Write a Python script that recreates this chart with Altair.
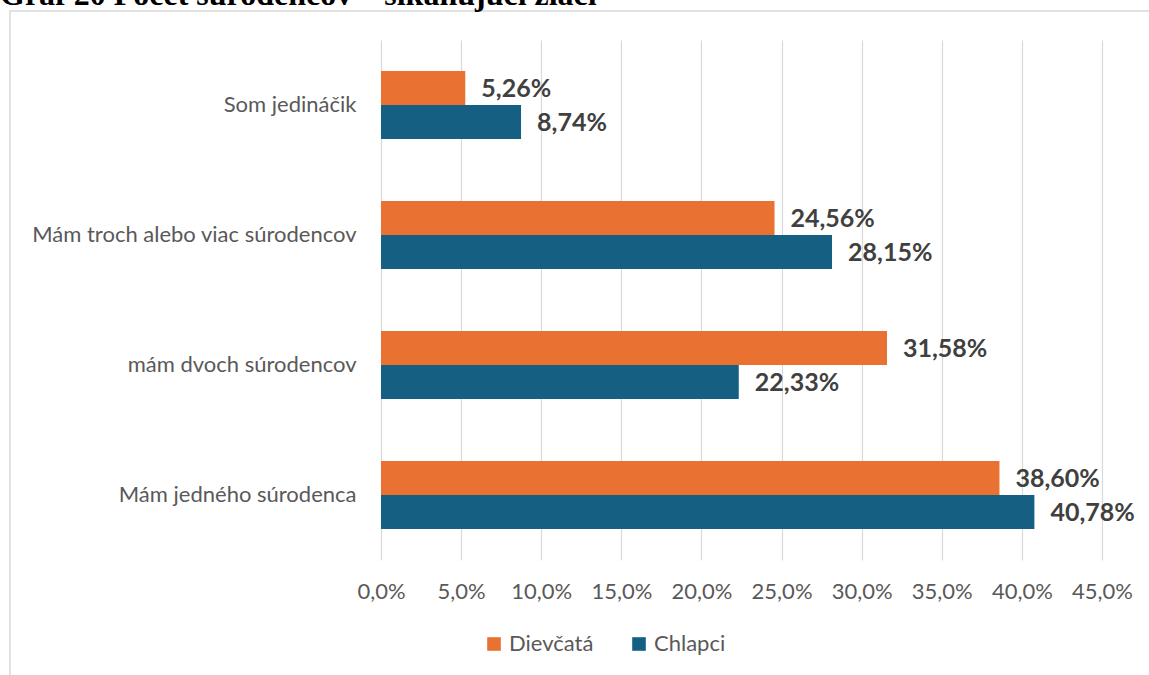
import altair as alt
import pandas as pd

categories = ["Som jedináčik", "Mám troch alebo viac súrodencov", "mám dvoch súrodencov", "Mám jedného súrodenca"]
series = ["Dievčatá", "Chlapci"]
dievcata = [5.26, 24.56, 31.58, 38.60]
chlapci = [8.74, 28.15, 22.33, 40.78]
colors = ["#E97132", "#156082"]
title_text = "Graf 20 Počet súrodencov – šikanujúci žiaci"

rows = []
for c, d, ch in zip(categories, dievcata, chlapci):
    rows.append({"cat": c, "series": "Dievčatá", "value": d})
    rows.append({"cat": c, "series": "Chlapci", "value": ch})
df = pd.DataFrame(rows)

FONT = "Lato"

base = alt.Chart(df).transform_calculate(
    lab="replace(format(datum.value, '.2f'), '.', ',') + '%'"
)

y_enc = alt.Y("cat:N", sort=categories, title=None,
              scale=alt.Scale(paddingInner=0.477, paddingOuter=0.2385),
              axis=alt.Axis(ticks=False, domain=False, labelFont=FONT, labelFontSize=22,
                            labelColor="#595959", labelPadding=25, labelLimit=500))
yoff = alt.YOffset("series:N", sort=series, scale=alt.Scale(domain=series, paddingInner=0, paddingOuter=0))
x_enc = alt.X("value:Q", title=None,
              scale=alt.Scale(domain=[0, 45], nice=False),
              axis=alt.Axis(values=list(range(0, 46, 5)), domain=False, ticks=False,
                            gridColor="#d9d9d9", gridWidth=1.2, labelFlush=False, labelOverlap=False,
                            labelExpr="replace(format(datum.value, '.1f'), '.', ',') + '%'",
                            labelFont=FONT, labelFontSize=22, labelColor="#595959", labelPadding=21))

bars = base.mark_bar().encode(
    x=x_enc, y=y_enc, yOffset=yoff,
    color=alt.Color("series:N", sort=series, scale=alt.Scale(domain=series, range=colors),
                    legend=alt.Legend(title=None, orient="none", direction="horizontal",
                                      legendX=102, legendY=593, symbolType="square",
                                      symbolSize=185, symbolStrokeWidth=0, labelFont=FONT,
                                      labelFontSize=22, labelColor="#595959", columnPadding=34,
                                      labelOffset=4))
)

labels = base.mark_text(align="left", baseline="middle", dx=16, dy=1, fontSize=25,
                        fontWeight="bold", font=FONT, color="#404040").encode(
    x="value:Q", y=alt.Y("cat:N", sort=categories), yOffset=alt.YOffset("series:N", sort=series), text="lab:N"
)

frame_df = pd.DataFrame({"a": [0]})
frame = alt.Chart(frame_df).mark_rect(fill="white", fillOpacity=0, stroke="#d9d9d9", strokeWidth=1.5).encode(
    x=alt.value(-371), x2=alt.value(900), y=alt.value(-29), y2=alt.value(700)
)
title = alt.Chart(frame_df).mark_text(align="left", baseline="alphabetic", fontSize=32, fontWeight="bold",
                                      font="Liberation Serif", color="#000000").encode(
    x=alt.value(-381), y=alt.value(-35), text=alt.value(title_text)
)

chart = alt.layer(frame, bars, labels, title).properties(
    width=721, height=520,
    autosize=alt.AutoSizeParams(type="none"),
    padding={"left": 381, "top": 40, "right": 47, "bottom": 115},
    background="white",
).configure_view(stroke=None)

chart.save("out.html", embed_options={"renderer": "svg", "actions": False})
